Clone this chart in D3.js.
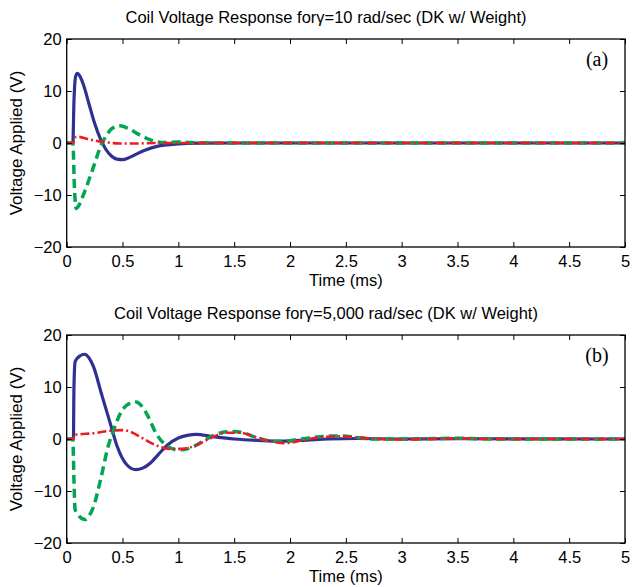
<!DOCTYPE html>
<html>
<head>
<meta charset="UTF-8">
<title>Coil Voltage Response</title>
<script src="https://cdn.jsdelivr.net/npm/d3@7"></script>
<style>
  body { margin: 0; background: #fff; }
  text { font-family: "Liberation Sans", Arial, sans-serif; fill: #000; }
</style>
</head>
<body>
<script>
// data: [time (ms), voltage (V)]
var blueA = [[0,0],[0.055,0],[0.065,8],[0.08,12.8],[0.095,13.4],[0.12,12.8],[0.15,11.2],[0.2,7.5],[0.25,3.8],[0.3,0.9],[0.35,-1.2],[0.4,-2.5],[0.45,-3.1],[0.5,-3.2],[0.55,-2.9],[0.6,-2.4],[0.7,-1.4],[0.8,-0.7],[0.9,-0.35],[1.0,-0.15],[1.2,-0.03],[1.5,0],[5,0]];
var greenA = [[0,0],[0.055,0],[0.07,-9],[0.085,-12.6],[0.1,-12.3],[0.165,-9.1],[0.24,-4.6],[0.31,-0.3],[0.36,1.6],[0.4,2.7],[0.48,3.3],[0.55,2.8],[0.65,1.6],[0.75,0.6],[0.87,0.1],[1.0,0.2],[1.1,0.1],[1.3,0],[5,0]];
var redA = [[0,0],[0.06,0],[0.075,1.1],[0.1,1.2],[0.2,0.7],[0.33,0.2],[0.48,-0.1],[0.6,-0.1],[0.8,0],[5,0]];

var blueB = [[0,0],[0.06,0],[0.065,10],[0.075,14.8],[0.09,15.4],[0.12,16],[0.16,16.3],[0.2,15.6],[0.24,13.9],[0.31,8.8],[0.39,3.0],[0.45,-1.3],[0.54,-5.0],[0.62,-5.9],[0.68,-5.6],[0.75,-4.6],[0.82,-3.0],[0.9,-1.2],[1.0,0.2],[1.08,0.7],[1.16,0.9],[1.3,0.5],[1.5,0],[1.75,-0.3],[1.95,-0.4],[2.15,-0.2],[2.35,0],[2.6,0.1],[3,0],[3.5,0.05],[5,0]];
var greenB = [[0,0],[0.055,0],[0.065,-8],[0.075,-13.5],[0.1,-14.5],[0.165,-15.5],[0.2,-14.8],[0.24,-13],[0.31,-7.2],[0.37,-1.5],[0.42,1.7],[0.49,5.3],[0.56,6.8],[0.62,7.1],[0.68,6.1],[0.73,4.3],[0.8,1.1],[0.89,-1.2],[1.0,-2.1],[1.08,-1.9],[1.16,-1.2],[1.28,0.3],[1.43,1.4],[1.5,1.45],[1.56,1.3],[1.7,0.3],[1.8,-0.3],[1.92,-0.5],[2.1,0],[2.3,0.5],[2.45,0.6],[2.6,0.3],[2.75,0],[3.0,0],[3.3,0.1],[3.5,0.15],[3.7,0.05],[4,0],[5,0]];
var redB = [[0,0],[0.06,0],[0.07,0.8],[0.11,0.9],[0.24,1.1],[0.39,1.6],[0.5,1.7],[0.58,1.3],[0.66,0.4],[0.8,-1.2],[0.92,-1.9],[1.04,-1.9],[1.16,-1.2],[1.28,0.1],[1.43,1.2],[1.55,1.2],[1.7,0.3],[1.82,-0.4],[1.95,-0.8],[2.1,-0.3],[2.3,0.4],[2.45,0.5],[2.6,0.3],[2.8,0],[3.0,-0.1],[3.3,0.05],[3.5,0.1],[3.7,0],[4,0],[5,0]];

var xTicks = [0,0.5,1,1.5,2,2.5,3,3.5,4,4.5,5];
var yTicks = [-20,-10,0,10,20];

var panels = [
  {title: "10 rad/sec (DK w/ Weight)", tag: "(a)", blue: blueA, green: greenA, red: redA, top: 39},
  {title: "5,000 rad/sec (DK w/ Weight)", tag: "(b)", blue: blueB, green: greenB, red: redB, top: 335}
];

var W = 635, H = 587;
var left = 66.7, right = 625, ph = 208;

var svg = d3.select("body").append("svg")
  .attr("width", W).attr("height", H);

var x = d3.scaleLinear().domain([0, 5]).range([left, right]);

panels.forEach(function(p) {
  var y = d3.scaleLinear().domain([-20, 20]).range([p.top + ph, p.top]);
  var g = svg.append("g");

  var line = d3.line()
    .x(function(d) { return x(d[0]); })
    .y(function(d) { return y(d[1]); })
    .curve(d3.curveMonotoneX);

  g.append("path").datum(p.blue).attr("d", line)
    .attr("fill", "none").attr("stroke", "#2e3192").attr("stroke-width", 3.2);
  g.append("path").datum(p.green).attr("d", line)
    .attr("fill", "none").attr("stroke", "#00a651").attr("stroke-width", 3.5)
    .attr("stroke-dasharray", "9,5");
  g.append("path").datum(p.red).attr("d", line)
    .attr("fill", "none").attr("stroke", "#ed1c24").attr("stroke-width", 2.6)
    .attr("stroke-dasharray", "9,3,2,3");

  // frame
  g.append("rect").attr("x", left).attr("y", p.top)
    .attr("width", right - left).attr("height", ph)
    .attr("fill", "none").attr("stroke", "#000").attr("stroke-width", 1.3);

  // axes (ticks point inward, like matlab)
  var xa = g.append("g").attr("transform", "translate(0," + (p.top + ph) + ")")
    .call(d3.axisBottom(x).tickValues(xTicks).tickSizeInner(-5).tickSizeOuter(0).tickPadding(8)
      .tickFormat(function(d) { return d; }));
  var xt = g.append("g").attr("transform", "translate(0," + p.top + ")")
    .call(d3.axisTop(x).tickValues(xTicks).tickSizeInner(-5).tickSizeOuter(0).tickFormat(""));
  var ya = g.append("g").attr("transform", "translate(" + left + ",0)")
    .call(d3.axisLeft(y).tickValues(yTicks).tickSizeInner(-5).tickSizeOuter(0).tickPadding(5)
      .tickFormat(function(d) { return d < 0 ? "\u2212" + Math.abs(d) : d; }));
  var yr = g.append("g").attr("transform", "translate(" + right + ",0)")
    .call(d3.axisRight(y).tickValues(yTicks).tickSizeInner(-5).tickSizeOuter(0).tickFormat(""));

  [xa, xt, ya, yr].forEach(function(a) {
    a.select(".domain").remove();
    a.selectAll("line").attr("stroke", "#000").attr("stroke-width", 1);
    a.selectAll("text").style("font-size", "16.5px").style("font-family", "'Liberation Sans', Arial, sans-serif");
  });

  // titles and labels
  var t = g.append("text").attr("x", 326).attr("y", p.top - 16)
    .attr("text-anchor", "middle").style("font-size", "16.5px");
  t.append("tspan").text("Coil Voltage Response for");
  t.append("tspan").text("\u03b3=" + p.title);

  g.append("text").attr("x", (left + right) / 2).attr("y", p.top + ph + 39)
    .attr("text-anchor", "middle").style("font-size", "16.5px").text("Time (ms)");

  g.append("text")
    .attr("transform", "translate(22," + (p.top + ph / 2) + ") rotate(-90)")
    .attr("text-anchor", "middle").style("font-size", "17px").text("Voltage Applied (V)");

  g.append("text").attr("x", 597).attr("y", p.top + 27)
    .attr("text-anchor", "middle")
    .style("font-family", "'Liberation Serif', 'Times New Roman', serif")
    .style("font-size", "20px").text(p.tag);
});
</script>
</body>
</html>
